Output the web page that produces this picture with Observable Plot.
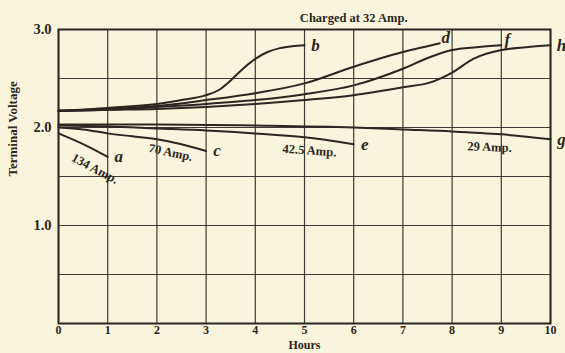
<!DOCTYPE html>
<html><head><meta charset="utf-8">
<script src="https://cdn.jsdelivr.net/npm/d3@7"></script>
<script src="https://cdn.jsdelivr.net/npm/@observablehq/plot@0.6"></script>
<style>
html,body{margin:0;padding:0;background:#f9f5dc;}
#chart svg{display:block;}
</style></head><body><div id="chart"></div>
<script>
// axes / ticks
const hourTicks = [0,1,2,3,4,5,6,7,8,9,10];
const voltTicks = [1,2,3];
const voltGrid = [0,0.5,1,1.5,2,2.5,3];
const titleText = "Charged at 32 Amp.";
const xLabel = "Hours";
const yLabel = "Terminal Voltage";

// charging curves (32 Amp.)
const bHours = [0,1,2,2.5,3,3.25,3.5,3.75,4,4.25,4.5,4.75,5];
const bVolts = [2.17,2.20,2.24,2.28,2.33,2.38,2.48,2.60,2.70,2.77,2.81,2.83,2.84];
const dHours = [0,1,2,3,4,5,6,7,7.5,7.75];
const dVolts = [2.17,2.19,2.22,2.28,2.35,2.45,2.62,2.77,2.83,2.86];
const fHours = [0,1,2,3,4,5,6,7,7.56,8,8.5,9];
const fVolts = [2.17,2.18,2.21,2.24,2.28,2.34,2.43,2.60,2.72,2.79,2.82,2.84];
const hHours = [0,1,2,3,4,5,6,7,7.56,8,8.43,9,9.5,10];
const hVolts = [2.17,2.18,2.19,2.21,2.24,2.28,2.33,2.41,2.46,2.56,2.70,2.79,2.82,2.84];

// discharge curves
const aHours = [0,0.5,1];
const aVolts = [1.94,1.83,1.70];
const cHours = [0,0.5,1,1.5,2,2.5,3];
const cVolts = [2.00,1.98,1.94,1.91,1.88,1.83,1.76];
const eHours = [0,1,2,3,4,5,6];
const eVolts = [2.02,2.01,1.99,1.97,1.94,1.90,1.83];
const gHours = [0,2,4,6,7,8,9,10];
const gVolts = [2.03,2.03,2.02,2.00,1.98,1.96,1.93,1.88];

// discharge-rate annotations
const ampText  = ["134 Amp.","70 Amp.","42.5 Amp.","29 Amp."];
const ampHours = [0.74,2.28,5.10,8.76];
const ampVolts = [1.58,1.745,1.765,1.80];
const ampAngle = [28,12,4,2];

const series = [
  ["b",bHours,bVolts],["d",dHours,dVolts],["f",fHours,fVolts],["h",hHours,hVolts],
  ["a",aHours,aVolts],["c",cHours,cVolts],["e",eHours,eVolts],["g",gHours,gVolts]
];
const rows = series.flatMap(([name,hs,vs]) => hs.map((h,i)=>({name, hour:h, volt:vs[i]})));
const amps = ampText.map((t,i)=>({t, hour:ampHours[i], volt:ampVolts[i], angle:ampAngle[i]}));

const ink = "#2b2622";
const serif = "'Liberation Serif', 'DejaVu Serif', serif";

const chart = Plot.plot({
  width: 565, height: 353,
  marginLeft: 58, marginRight: 15, marginTop: 29, marginBottom: 30,
  style: {background: "#f9f5dc", fontFamily: serif, color: ink},
  x: {domain: [0,10]},
  y: {domain: [0,3]},
  marks: [
    Plot.gridX(hourTicks, {stroke: ink, strokeOpacity: 0.9, strokeWidth: 1.2}),
    Plot.gridY(voltGrid, {stroke: ink, strokeOpacity: 0.9, strokeWidth: 1.2}),
    Plot.frame({stroke: ink, strokeWidth: 2}),
    Plot.axisX(hourTicks, {tickSize: 0, tickPadding: 2, label: null, fontSize: 12, fontWeight: "bold", fill: ink}),
    Plot.axisY(voltTicks, {tickSize: 0, tickPadding: 7, tickFormat: d3.format(".1f"), label: null, fontSize: 14.5, fontWeight: "bold", fill: ink}),
    Plot.text([yLabel], {text: d=>d, frameAnchor: "left", rotate: -90, dx: -46, fontSize: 13, fontWeight: "bold", fill: ink, letterSpacing: "1.6px"}),
    Plot.text([xLabel], {text: d=>d, frameAnchor: "bottom", dy: 25, fontSize: 12, fontWeight: "bold", fill: ink, letterSpacing: "0.5px"}),
    Plot.text([{t: titleText, hour: 6}], {x: "hour", text: "t", frameAnchor: "top", dy: -16, fontSize: 12.5, fontWeight: "bold", fill: ink}),
    Plot.line(rows, {x: "hour", y: "volt", z: "name", curve: "monotone-x", stroke: ink, strokeWidth: 2}),
    Plot.text(rows.filter(r => r.name !== "d" && r.name !== "f"), Plot.selectLast({x: "hour", y: "volt", z: "name", text: "name", dx: 11, fontSize: 17, fontStyle: "italic", fontWeight: "bold", fill: ink})),
    Plot.text(rows.filter(r => r.name === "d" || r.name === "f"), Plot.selectLast({x: "hour", y: "volt", z: "name", text: "name", dx: 6, dy: -6, fontSize: 17, fontStyle: "italic", fontWeight: "bold", fill: ink})),
    Plot.text(amps, {x: "hour", y: "volt", text: "t", rotate: "angle", fontSize: 12.5, fontWeight: "bold", fill: ink})
  ]
});
document.getElementById("chart").appendChild(chart);
</script></body></html>
